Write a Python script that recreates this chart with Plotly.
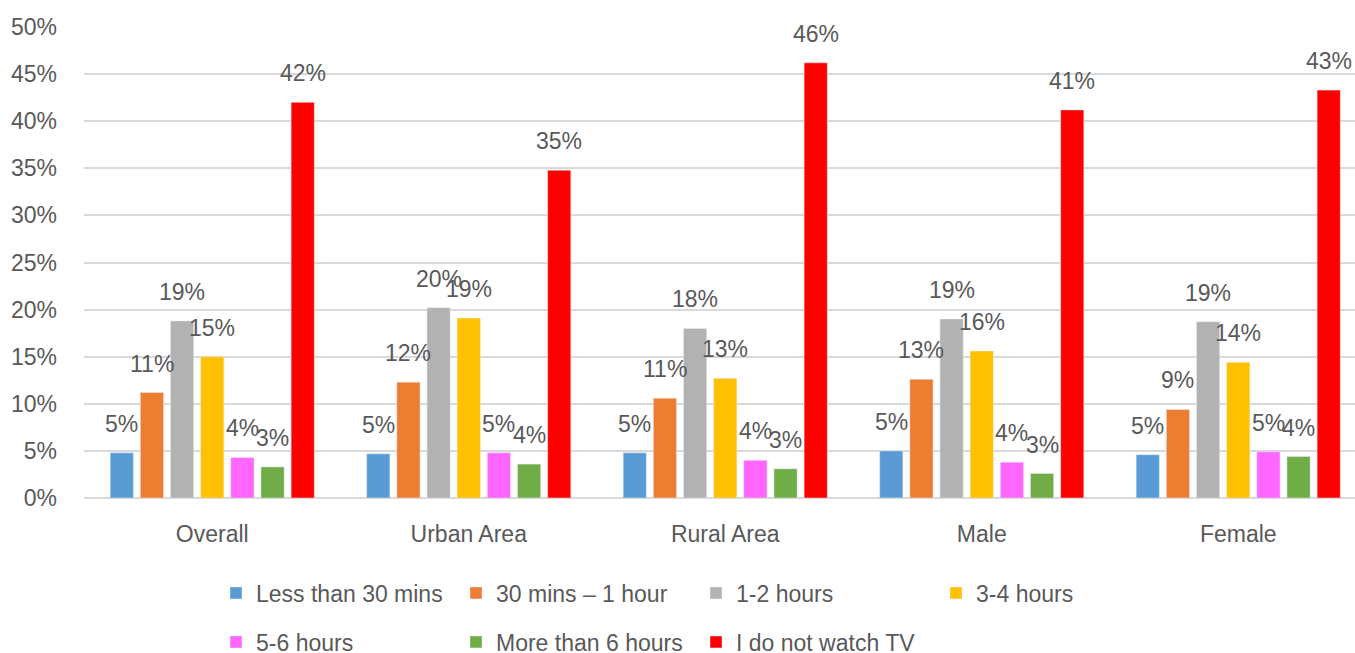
import plotly.graph_objects as go

# categories and series (percent of respondents)
categories = ["Overall", "Urban Area", "Rural Area", "Male", "Female"]

less_30 = [4.8, 4.7, 4.8, 5.0, 4.6]
mins30_1h = [11.2, 12.3, 10.6, 12.6, 9.4]
h1_2 = [18.8, 20.2, 18.0, 19.0, 18.7]
h3_4 = [15.0, 19.1, 12.7, 15.6, 14.4]
h5_6 = [4.3, 4.8, 4.0, 3.8, 4.9]
more_6 = [3.3, 3.6, 3.1, 2.6, 4.4]
no_tv = [42.0, 34.8, 46.2, 41.2, 43.3]

series_names = ["Less than 30 mins", "30 mins \u2013 1 hour", "1-2 hours", "3-4 hours",
                "5-6 hours", "More than 6 hours", "I do not watch TV"]
series_values = [less_30, mins30_1h, h1_2, h3_4, h5_6, more_6, no_tv]
colors = ["#5B9BD5", "#ED7D31", "#B2B2B2", "#FFC000", "#FF66FF", "#70AD47", "#FF0000"]

y_ticks = list(range(0, 55, 5))
y_tick_labels = [f"{t}%" for t in y_ticks]

FONT = "Liberation Sans"
TXT = "#595959"
FS = 23
BARGAP = 0.177
n = len(series_names)

fig = go.Figure()
annotations = []
for j, (name, vals, col) in enumerate(zip(series_names, series_values, colors)):
    fig.add_trace(go.Bar(
        x=categories, y=vals, name=name, marker_color=col,
        legend="legend" if j < 4 else "legend2",
    ))
    # data labels sit a bit above each bar
    for i, v in enumerate(vals):
        annotations.append(dict(
            x=i + (j - (n - 1) / 2) * (1 - BARGAP) / n, y=v,
            xref="x", yref="y", text=f"{v:.0f}%", showarrow=False,
            yanchor="middle", yshift=29,
            font=dict(family=FONT, size=FS, color=TXT),
        ))

legend_common = dict(
    orientation="h", xref="container", yref="container",
    xanchor="left", yanchor="middle",
    font=dict(family=FONT, size=FS, color=TXT),
    entrywidth=195, entrywidthmode="pixels",
    bgcolor="rgba(0,0,0,0)", traceorder="normal",
)

fig.update_layout(
    width=1355, height=653,
    margin=dict(l=84, r=0, t=27, b=155, autoexpand=False),
    plot_bgcolor="white", paper_bgcolor="white",
    barmode="group", bargap=BARGAP, bargroupgap=0.23,
    font=dict(family=FONT, size=FS, color=TXT),
    annotations=annotations,
    legend=dict(legend_common, x=216 / 1355, y=1 - 593 / 653),
    legend2=dict(legend_common, x=216 / 1355, y=1 - 642 / 653),
    xaxis=dict(
        type="category", range=[-0.5, -0.5 + 1271 / 256.5],
        showgrid=False, showline=False, ticks="",
        ticklabelstandoff=20,
        tickfont=dict(family=FONT, size=FS, color=TXT),
    ),
    yaxis=dict(
        range=[0, 50], tickvals=y_ticks, ticktext=y_tick_labels,
        showgrid=True, gridcolor="#D9D9D9", gridwidth=2,
        zeroline=True, zerolinecolor="#D9D9D9", zerolinewidth=2,
        ticklabelstandoff=26,
        tickfont=dict(family=FONT, size=FS, color=TXT),
    ),
)

fig.write_html("out.html", config={"displayModeBar": False},
               post_script="document.body.style.margin='0';")
